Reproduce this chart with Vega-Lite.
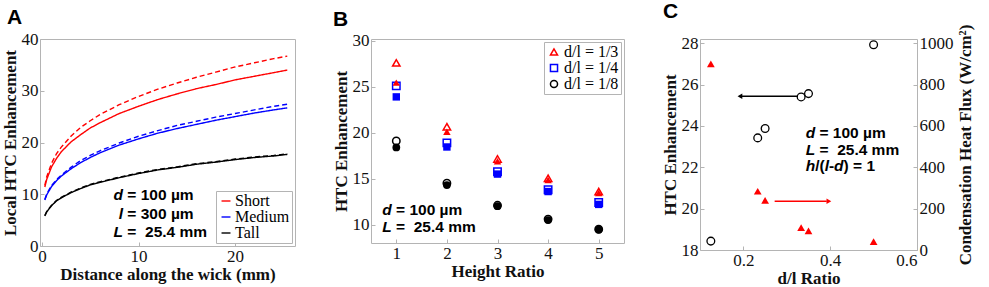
{
 "$schema": "https://vega.github.io/schema/vega-lite/v6.json",
 "padding": {"left": 0, "top": 0, "right": 1, "bottom": 0},
 "spacing": 76,
 "bounds": "flush",
 "resolve": {"scale": {"color": "independent", "shape": "independent", "strokeDash": "independent"}, "legend": {"color": "independent", "shape": "independent"}},
 "datasets": {
  "curves": [
   {"x":0.3,"y":11.4,"h":"Short","m":"solid"},{"x":0.5,"y":12.9,"h":"Short","m":"solid"},{"x":1,"y":15.3,"h":"Short","m":"solid"},{"x":1.5,"y":16.9,"h":"Short","m":"solid"},{"x":2,"y":18.2,"h":"Short","m":"solid"},{"x":3,"y":20.1,"h":"Short","m":"solid"},{"x":4,"y":21.5,"h":"Short","m":"solid"},{"x":5,"y":22.8,"h":"Short","m":"solid"},{"x":6,"y":23.8,"h":"Short","m":"solid"},{"x":8,"y":25.6,"h":"Short","m":"solid"},{"x":10,"y":27.0,"h":"Short","m":"solid"},{"x":12,"y":28.3,"h":"Short","m":"solid"},{"x":14,"y":29.4,"h":"Short","m":"solid"},{"x":16,"y":30.4,"h":"Short","m":"solid"},{"x":18,"y":31.2,"h":"Short","m":"solid"},{"x":20,"y":32.1,"h":"Short","m":"solid"},{"x":22,"y":32.8,"h":"Short","m":"solid"},{"x":24,"y":33.5,"h":"Short","m":"solid"},{"x":25.4,"y":34.0,"h":"Short","m":"solid"},
   {"x":0.3,"y":11.7,"h":"Short","m":"dashed"},{"x":0.5,"y":13.4,"h":"Short","m":"dashed"},{"x":1,"y":16.0,"h":"Short","m":"dashed"},{"x":1.5,"y":17.8,"h":"Short","m":"dashed"},{"x":2,"y":19.1,"h":"Short","m":"dashed"},{"x":3,"y":21.2,"h":"Short","m":"dashed"},{"x":4,"y":22.9,"h":"Short","m":"dashed"},{"x":5,"y":24.2,"h":"Short","m":"dashed"},{"x":6,"y":25.4,"h":"Short","m":"dashed"},{"x":8,"y":27.3,"h":"Short","m":"dashed"},{"x":10,"y":28.9,"h":"Short","m":"dashed"},{"x":12,"y":30.3,"h":"Short","m":"dashed"},{"x":14,"y":31.5,"h":"Short","m":"dashed"},{"x":16,"y":32.6,"h":"Short","m":"dashed"},{"x":18,"y":33.6,"h":"Short","m":"dashed"},{"x":20,"y":34.6,"h":"Short","m":"dashed"},{"x":22,"y":35.4,"h":"Short","m":"dashed"},{"x":24,"y":36.2,"h":"Short","m":"dashed"},{"x":25.4,"y":36.7,"h":"Short","m":"dashed"},
   {"x":0.3,"y":8.9,"h":"Medium","m":"solid"},{"x":0.5,"y":9.9,"h":"Medium","m":"solid"},{"x":1,"y":11.5,"h":"Medium","m":"solid"},{"x":1.5,"y":12.6,"h":"Medium","m":"solid"},{"x":2,"y":13.5,"h":"Medium","m":"solid"},{"x":3,"y":14.9,"h":"Medium","m":"solid"},{"x":4,"y":16.1,"h":"Medium","m":"solid"},{"x":5,"y":17.1,"h":"Medium","m":"solid"},{"x":6,"y":18.0,"h":"Medium","m":"solid"},{"x":8,"y":19.5,"h":"Medium","m":"solid"},{"x":10,"y":20.7,"h":"Medium","m":"solid"},{"x":12,"y":21.8,"h":"Medium","m":"solid"},{"x":14,"y":22.7,"h":"Medium","m":"solid"},{"x":16,"y":23.5,"h":"Medium","m":"solid"},{"x":18,"y":24.3,"h":"Medium","m":"solid"},{"x":20,"y":25.0,"h":"Medium","m":"solid"},{"x":22,"y":25.7,"h":"Medium","m":"solid"},{"x":24,"y":26.3,"h":"Medium","m":"solid"},{"x":25.4,"y":26.7,"h":"Medium","m":"solid"},
   {"x":0.3,"y":9.0,"h":"Medium","m":"dashed"},{"x":0.5,"y":10.1,"h":"Medium","m":"dashed"},{"x":1,"y":11.7,"h":"Medium","m":"dashed"},{"x":1.5,"y":12.8,"h":"Medium","m":"dashed"},{"x":2,"y":13.7,"h":"Medium","m":"dashed"},{"x":3,"y":15.2,"h":"Medium","m":"dashed"},{"x":4,"y":16.5,"h":"Medium","m":"dashed"},{"x":5,"y":17.5,"h":"Medium","m":"dashed"},{"x":6,"y":18.4,"h":"Medium","m":"dashed"},{"x":8,"y":19.9,"h":"Medium","m":"dashed"},{"x":10,"y":21.2,"h":"Medium","m":"dashed"},{"x":12,"y":22.3,"h":"Medium","m":"dashed"},{"x":14,"y":23.3,"h":"Medium","m":"dashed"},{"x":16,"y":24.1,"h":"Medium","m":"dashed"},{"x":18,"y":24.9,"h":"Medium","m":"dashed"},{"x":20,"y":25.6,"h":"Medium","m":"dashed"},{"x":22,"y":26.3,"h":"Medium","m":"dashed"},{"x":24,"y":27.0,"h":"Medium","m":"dashed"},{"x":25.4,"y":27.4,"h":"Medium","m":"dashed"},
   {"x":0.3,"y":5.8,"h":"Tall","m":"solid"},{"x":0.5,"y":6.6,"h":"Tall","m":"solid"},{"x":1,"y":7.8,"h":"Tall","m":"solid"},{"x":1.5,"y":8.7,"h":"Tall","m":"solid"},{"x":2,"y":9.3,"h":"Tall","m":"solid"},{"x":3,"y":10.3,"h":"Tall","m":"solid"},{"x":4,"y":11.1,"h":"Tall","m":"solid"},{"x":5,"y":11.8,"h":"Tall","m":"solid"},{"x":6,"y":12.3,"h":"Tall","m":"solid"},{"x":8,"y":13.2,"h":"Tall","m":"solid"},{"x":10,"y":14.0,"h":"Tall","m":"solid"},{"x":12,"y":14.7,"h":"Tall","m":"solid"},{"x":14,"y":15.2,"h":"Tall","m":"solid"},{"x":16,"y":15.8,"h":"Tall","m":"solid"},{"x":18,"y":16.2,"h":"Tall","m":"solid"},{"x":20,"y":16.7,"h":"Tall","m":"solid"},{"x":22,"y":17.1,"h":"Tall","m":"solid"},{"x":24,"y":17.4,"h":"Tall","m":"solid"},{"x":25.4,"y":17.7,"h":"Tall","m":"solid"},
   {"x":0.3,"y":5.9,"h":"Tall","m":"dashed"},{"x":0.5,"y":6.7,"h":"Tall","m":"dashed"},{"x":1,"y":7.9,"h":"Tall","m":"dashed"},{"x":1.5,"y":8.8,"h":"Tall","m":"dashed"},{"x":2,"y":9.4,"h":"Tall","m":"dashed"},{"x":3,"y":10.4,"h":"Tall","m":"dashed"},{"x":4,"y":11.2,"h":"Tall","m":"dashed"},{"x":5,"y":11.9,"h":"Tall","m":"dashed"},{"x":6,"y":12.4,"h":"Tall","m":"dashed"},{"x":8,"y":13.3,"h":"Tall","m":"dashed"},{"x":10,"y":14.1,"h":"Tall","m":"dashed"},{"x":12,"y":14.8,"h":"Tall","m":"dashed"},{"x":14,"y":15.3,"h":"Tall","m":"dashed"},{"x":16,"y":15.9,"h":"Tall","m":"dashed"},{"x":18,"y":16.3,"h":"Tall","m":"dashed"},{"x":20,"y":16.8,"h":"Tall","m":"dashed"},{"x":22,"y":17.2,"h":"Tall","m":"dashed"},{"x":24,"y":17.5,"h":"Tall","m":"dashed"},{"x":25.4,"y":17.8,"h":"Tall","m":"dashed"}
  ],
  "pts": [
   {"x":1,"y":27.6,"g":"d/l = 1/3","f":"open"},{"x":2,"y":20.65,"g":"d/l = 1/3","f":"open"},{"x":3,"y":17.15,"g":"d/l = 1/3","f":"open"},{"x":4,"y":15.05,"g":"d/l = 1/3","f":"open"},{"x":5,"y":13.6,"g":"d/l = 1/3","f":"open"},
   {"x":1,"y":25.1,"g":"d/l = 1/4","f":"open"},{"x":2,"y":18.9,"g":"d/l = 1/4","f":"open"},{"x":3,"y":15.75,"g":"d/l = 1/4","f":"open"},{"x":4,"y":13.8,"g":"d/l = 1/4","f":"open"},{"x":5,"y":12.4,"g":"d/l = 1/4","f":"open"},
   {"x":1,"y":19.1,"g":"d/l = 1/8","f":"open"},{"x":2,"y":14.5,"g":"d/l = 1/8","f":"open"},{"x":3,"y":12.1,"g":"d/l = 1/8","f":"open"},{"x":4,"y":10.6,"g":"d/l = 1/8","f":"open"},{"x":5,"y":9.5,"g":"d/l = 1/8","f":"open"},
   {"x":1,"y":25.45,"g":"d/l = 1/3","f":"filled"},{"x":2,"y":20.1,"g":"d/l = 1/3","f":"filled"},{"x":3,"y":16.9,"g":"d/l = 1/3","f":"filled"},{"x":4,"y":14.85,"g":"d/l = 1/3","f":"filled"},{"x":5,"y":13.45,"g":"d/l = 1/3","f":"filled"},
   {"x":1,"y":23.9,"g":"d/l = 1/4","f":"filled"},{"x":2,"y":18.45,"g":"d/l = 1/4","f":"filled"},{"x":3,"y":15.5,"g":"d/l = 1/4","f":"filled"},{"x":4,"y":13.6,"g":"d/l = 1/4","f":"filled"},{"x":5,"y":12.2,"g":"d/l = 1/4","f":"filled"},
   {"x":1,"y":18.4,"g":"d/l = 1/8","f":"filled"},{"x":2,"y":14.3,"g":"d/l = 1/8","f":"filled"},{"x":3,"y":12.0,"g":"d/l = 1/8","f":"filled"},{"x":4,"y":10.5,"g":"d/l = 1/8","f":"filled"},{"x":5,"y":9.45,"g":"d/l = 1/8","f":"filled"}
  ],
  "htc": [
   {"x":0.125,"y":18.43},{"x":0.233,"y":23.42},{"x":0.25,"y":23.87},{"x":0.333,"y":25.4},{"x":0.35,"y":25.56},{"x":0.5,"y":27.92}
  ],
  "flux": [
   {"x":0.125,"q":900},{"x":0.233,"q":284},{"x":0.25,"q":240},{"x":0.333,"q":108},{"x":0.35,"q":92},{"x":0.5,"q":40}
  ]
 },
 "hconcat": [
  {
   "width": 255, "height": 207,
   "title": {"text": "A", "dx": 6},
   "layer": [
    {
     "data": {"name": "curves"},
     "mark": {"type": "line", "strokeWidth": 1.4},
     "encoding": {
      "x": {"field": "x", "type": "quantitative", "scale": {"domain": [-0.2, 26.2], "nice": false, "zero": false}, "axis": {"title": "Distance along the wick (mm)", "values": [0, 10, 20]}},
      "y": {"field": "y", "type": "quantitative", "scale": {"domain": [0, 40], "nice": false}, "axis": {"title": "Local HTC Enhancement", "values": [0, 10, 20, 30, 40]}},
      "color": {"field": "h", "type": "nominal", "scale": {"domain": ["Short", "Medium", "Tall"], "range": ["#ff0000", "#0000ff", "#000000"]}, "legend": {"title": null, "orient": "bottom-right", "symbolType": "stroke", "symbolStrokeWidth": 1.4, "symbolSize": 80, "labelOffset": 1, "padding": 2, "offset": 3}},
      "strokeDash": {"field": "m", "type": "nominal", "scale": {"domain": ["solid", "dashed"], "range": [[1, 0], [5, 3]]}, "legend": null}
     }
    },
    {
     "data": {"values": [{"x": 8.4, "y": 9.8, "t": "d"}, {"x": 8.4, "y": 6.25, "t": "l"}, {"x": 8.4, "y": 2.7, "t": "L"}]},
     "mark": {"type": "text", "align": "right", "baseline": "middle", "font": "Liberation Sans", "fontWeight": "bold", "fontStyle": "italic", "fontSize": 15.5, "color": "#000"},
     "encoding": {
      "x": {"field": "x", "type": "quantitative", "scale": {"domain": [-0.2, 26.2], "nice": false, "zero": false}},
      "y": {"field": "y", "type": "quantitative", "scale": {"domain": [0, 40], "nice": false}},
      "text": {"field": "t"}
     }
    },
    {
     "data": {"values": [{"x": 8.4, "y": 9.8, "t": "= 100 \u00b5m"}, {"x": 8.4, "y": 6.25, "t": "= 300 \u00b5m"}, {"x": 8.4, "y": 2.7, "t": "=\u00a0\u00a025.4 mm"}]},
     "mark": {"type": "text", "align": "left", "baseline": "middle", "dx": 4.3, "font": "Liberation Sans", "fontWeight": "bold", "fontSize": 15.5, "color": "#000"},
     "encoding": {
      "x": {"field": "x", "type": "quantitative", "scale": {"domain": [-0.2, 26.2], "nice": false, "zero": false}},
      "y": {"field": "y", "type": "quantitative", "scale": {"domain": [0, 40], "nice": false}},
      "text": {"field": "t"}
     }
    }
   ]
  },
  {
   "width": 253, "height": 204,
   "title": {"text": "B", "dx": 1},
   "layer": [
    {
     "data": {"name": "pts"},
     "transform": [{"filter": "datum.f == 'open'"}],
     "mark": {"type": "point", "filled": false, "strokeWidth": 1.5, "opacity": 1, "size": 55},
     "encoding": {
      "x": {"field": "x", "type": "quantitative", "scale": {"domain": [0.5, 5.5], "nice": false, "zero": false}, "axis": {"title": "Height Ratio", "values": [1, 2, 3, 4, 5]}},
      "y": {"field": "y", "type": "quantitative", "scale": {"domain": [8, 30.2], "nice": false, "zero": false}, "axis": {"title": "HTC Enhancement", "values": [10, 15, 20, 25, 30]}},
      "color": {"field": "g", "type": "nominal", "scale": {"domain": ["d/l = 1/3", "d/l = 1/4", "d/l = 1/8"], "range": ["#ff0000", "#0000ff", "#000000"]}, "legend": {"title": null, "orient": "top-right", "symbolStrokeWidth": 1.5, "symbolSize": 50, "labelOffset": 2, "padding": 2, "offset": 3}},
      "shape": {"field": "g", "type": "nominal", "scale": {"domain": ["d/l = 1/3", "d/l = 1/4", "d/l = 1/8"], "range": ["triangle-up", "square", "circle"]}, "legend": {"title": null, "orient": "top-right", "symbolStrokeWidth": 1.5, "symbolSize": 50, "labelOffset": 2, "padding": 2, "offset": 3}}
     }
    },
    {
     "data": {"name": "pts"},
     "transform": [{"filter": "datum.f == 'filled' && datum.g == 'd/l = 1/3'"}],
     "mark": {"type": "point", "shape": "triangle-up", "filled": true, "color": "#ff0000", "opacity": 1, "size": 55},
     "encoding": {
      "x": {"field": "x", "type": "quantitative", "scale": {"domain": [0.5, 5.5], "nice": false, "zero": false}},
      "y": {"field": "y", "type": "quantitative", "scale": {"domain": [8, 30.2], "nice": false, "zero": false}}
     }
    },
    {
     "data": {"name": "pts"},
     "transform": [{"filter": "datum.f == 'filled' && datum.g == 'd/l = 1/4'"}],
     "mark": {"type": "point", "shape": "square", "filled": true, "color": "#0000ff", "opacity": 1, "size": 55},
     "encoding": {
      "x": {"field": "x", "type": "quantitative", "scale": {"domain": [0.5, 5.5], "nice": false, "zero": false}},
      "y": {"field": "y", "type": "quantitative", "scale": {"domain": [8, 30.2], "nice": false, "zero": false}}
     }
    },
    {
     "data": {"name": "pts"},
     "transform": [{"filter": "datum.f == 'filled' && datum.g == 'd/l = 1/8'"}],
     "mark": {"type": "point", "shape": "circle", "filled": true, "color": "#000000", "opacity": 1, "size": 60},
     "encoding": {
      "x": {"field": "x", "type": "quantitative", "scale": {"domain": [0.5, 5.5], "nice": false, "zero": false}},
      "y": {"field": "y", "type": "quantitative", "scale": {"domain": [8, 30.2], "nice": false, "zero": false}}
     }
    },
    {
     "data": {"values": [{"x": 0.91, "y": 11.64, "t": "d"}, {"x": 0.91, "y": 9.7, "t": "L"}]},
     "mark": {"type": "text", "align": "right", "baseline": "middle", "font": "Liberation Sans", "fontWeight": "bold", "fontStyle": "italic", "fontSize": 15.5, "color": "#000"},
     "encoding": {
      "x": {"field": "x", "type": "quantitative", "scale": {"domain": [0.5, 5.5], "nice": false, "zero": false}},
      "y": {"field": "y", "type": "quantitative", "scale": {"domain": [8, 30.2], "nice": false, "zero": false}},
      "text": {"field": "t"}
     }
    },
    {
     "data": {"values": [{"x": 0.91, "y": 11.64, "t": "= 100 \u00b5m"}, {"x": 0.91, "y": 9.7, "t": "=\u00a0\u00a025.4 mm"}]},
     "mark": {"type": "text", "align": "left", "baseline": "middle", "dx": 4.3, "font": "Liberation Sans", "fontWeight": "bold", "fontSize": 15.5, "color": "#000"},
     "encoding": {
      "x": {"field": "x", "type": "quantitative", "scale": {"domain": [0.5, 5.5], "nice": false, "zero": false}},
      "y": {"field": "y", "type": "quantitative", "scale": {"domain": [8, 30.2], "nice": false, "zero": false}},
      "text": {"field": "t"}
     }
    }
   ]
  },
  {
   "width": 217, "height": 211,
   "title": {"text": "C", "dx": 2},
   "layer": [
    {
     "layer": [
      {
       "data": {"name": "htc"},
       "mark": {"type": "point", "filled": false, "color": "#000", "strokeWidth": 1.3, "size": 60, "opacity": 1},
       "encoding": {
        "x": {"field": "x", "type": "quantitative", "scale": {"domain": [0.1, 0.6], "nice": false, "zero": false}, "axis": {"title": "d/l Ratio", "values": [0.2, 0.4, 0.6], "format": ".1f"}},
        "y": {"field": "y", "type": "quantitative", "scale": {"domain": [18, 28.2], "nice": false, "zero": false}, "axis": {"title": "HTC Enhancement", "values": [18, 20, 22, 24, 26, 28]}}
       }
      },
      {
       "data": {"values": [{"x": 0.196, "x2": 0.325, "y": 25.43}]},
       "mark": {"type": "rule", "color": "#000", "strokeWidth": 1.6},
       "encoding": {
        "x": {"field": "x", "type": "quantitative", "scale": {"domain": [0.1, 0.6], "nice": false, "zero": false}},
        "x2": {"field": "x2"},
        "y": {"field": "y", "type": "quantitative", "scale": {"domain": [18, 28.2], "nice": false, "zero": false}}
       }
      },
      {
       "data": {"values": [{"x": 0.192, "y": 25.43}]},
       "mark": {"type": "point", "shape": "triangle-left", "filled": true, "color": "#000", "size": 30, "opacity": 1},
       "encoding": {
        "x": {"field": "x", "type": "quantitative", "scale": {"domain": [0.1, 0.6], "nice": false, "zero": false}},
        "y": {"field": "y", "type": "quantitative", "scale": {"domain": [18, 28.2], "nice": false, "zero": false}}
       }
      },
      {
       "data": {"values": [{"x": 0.3654, "y": 23.66, "t": "d"}, {"x": 0.3654, "y": 22.85, "t": "L"}, {"x": 0.3654, "y": 22.05, "t": "h"}]},
       "mark": {"type": "text", "align": "right", "baseline": "middle", "font": "Liberation Sans", "fontWeight": "bold", "fontStyle": "italic", "fontSize": 15.5, "color": "#000"},
       "encoding": {
        "x": {"field": "x", "type": "quantitative", "scale": {"domain": [0.1, 0.6], "nice": false, "zero": false}},
        "y": {"field": "y", "type": "quantitative", "scale": {"domain": [18, 28.2], "nice": false, "zero": false}},
        "text": {"field": "t"}
       }
      },
      {
       "data": {"values": [{"x": 0.3654, "y": 23.66, "t": "= 100 \u00b5m"}, {"x": 0.3654, "y": 22.85, "t": "=\u00a0\u00a025.4 mm"}]},
       "mark": {"type": "text", "align": "left", "baseline": "middle", "dx": 4.3, "font": "Liberation Sans", "fontWeight": "bold", "fontSize": 15.5, "color": "#000"},
       "encoding": {
        "x": {"field": "x", "type": "quantitative", "scale": {"domain": [0.1, 0.6], "nice": false, "zero": false}},
        "y": {"field": "y", "type": "quantitative", "scale": {"domain": [18, 28.2], "nice": false, "zero": false}},
        "text": {"field": "t"}
       }
      },
      {
       "data": {"values": [{"x": 0.3654, "y": 22.05, "t": "/("}]},
       "mark": {"type": "text", "align": "left", "baseline": "middle", "font": "Liberation Sans", "fontWeight": "bold", "fontSize": 15.5, "color": "#000"},
       "encoding": {
        "x": {"field": "x", "type": "quantitative", "scale": {"domain": [0.1, 0.6], "nice": false, "zero": false}},
        "y": {"field": "y", "type": "quantitative", "scale": {"domain": [18, 28.2], "nice": false, "zero": false}},
        "text": {"field": "t"}
       }
      },
      {
       "data": {"values": [{"x": 0.3654, "y": 22.05, "t": "l"}]},
       "mark": {"type": "text", "align": "left", "baseline": "middle", "dx": 9.47, "font": "Liberation Sans", "fontWeight": "bold", "fontStyle": "italic", "fontSize": 15.5, "color": "#000"},
       "encoding": {
        "x": {"field": "x", "type": "quantitative", "scale": {"domain": [0.1, 0.6], "nice": false, "zero": false}},
        "y": {"field": "y", "type": "quantitative", "scale": {"domain": [18, 28.2], "nice": false, "zero": false}},
        "text": {"field": "t"}
       }
      },
      {
       "data": {"values": [{"x": 0.3654, "y": 22.05, "t": "-"}]},
       "mark": {"type": "text", "align": "left", "baseline": "middle", "dx": 13.78, "font": "Liberation Sans", "fontWeight": "bold", "fontSize": 15.5, "color": "#000"},
       "encoding": {
        "x": {"field": "x", "type": "quantitative", "scale": {"domain": [0.1, 0.6], "nice": false, "zero": false}},
        "y": {"field": "y", "type": "quantitative", "scale": {"domain": [18, 28.2], "nice": false, "zero": false}},
        "text": {"field": "t"}
       }
      },
      {
       "data": {"values": [{"x": 0.3654, "y": 22.05, "t": "d"}]},
       "mark": {"type": "text", "align": "left", "baseline": "middle", "dx": 18.94, "font": "Liberation Sans", "fontWeight": "bold", "fontStyle": "italic", "fontSize": 15.5, "color": "#000"},
       "encoding": {
        "x": {"field": "x", "type": "quantitative", "scale": {"domain": [0.1, 0.6], "nice": false, "zero": false}},
        "y": {"field": "y", "type": "quantitative", "scale": {"domain": [18, 28.2], "nice": false, "zero": false}},
        "text": {"field": "t"}
       }
      },
      {
       "data": {"values": [{"x": 0.3654, "y": 22.05, "t": ")\u00a0= 1"}]},
       "mark": {"type": "text", "align": "left", "baseline": "middle", "dx": 28.41, "font": "Liberation Sans", "fontWeight": "bold", "fontSize": 15.5, "color": "#000"},
       "encoding": {
        "x": {"field": "x", "type": "quantitative", "scale": {"domain": [0.1, 0.6], "nice": false, "zero": false}},
        "y": {"field": "y", "type": "quantitative", "scale": {"domain": [18, 28.2], "nice": false, "zero": false}},
        "text": {"field": "t"}
       }
      }
     ]
    },
    {
     "layer": [
      {
       "data": {"name": "flux"},
       "mark": {"type": "point", "shape": "triangle-up", "filled": true, "color": "#ff0000", "size": 60, "opacity": 1},
       "encoding": {
        "x": {"field": "x", "type": "quantitative", "scale": {"domain": [0.1, 0.6], "nice": false, "zero": false}},
        "y": {"field": "q", "type": "quantitative", "scale": {"domain": [0, 1020], "nice": false, "zero": false}, "axis": {"orient": "right", "title": "Condensation Heat Flux (W/cm\u00b2)", "values": [0, 200, 400, 600, 800, 1000], "format": "d", "titleAngle": 270, "titleBaseline": "top", "titlePadding": 4}}
       }
      },
      {
       "data": {"values": [{"x": 0.272, "x2": 0.392, "q": 236}]},
       "mark": {"type": "rule", "color": "#ff0000", "strokeWidth": 1.6},
       "encoding": {
        "x": {"field": "x", "type": "quantitative", "scale": {"domain": [0.1, 0.6], "nice": false, "zero": false}},
        "x2": {"field": "x2"},
        "y": {"field": "q", "type": "quantitative", "scale": {"domain": [0, 1020], "nice": false, "zero": false}}
       }
      },
      {
       "data": {"values": [{"x": 0.397, "q": 236}]},
       "mark": {"type": "point", "shape": "triangle-right", "filled": true, "color": "#ff0000", "size": 30, "opacity": 1},
       "encoding": {
        "x": {"field": "x", "type": "quantitative", "scale": {"domain": [0.1, 0.6], "nice": false, "zero": false}},
        "y": {"field": "q", "type": "quantitative", "scale": {"domain": [0, 1020], "nice": false, "zero": false}}
       }
      }
     ]
    }
   ],
   "resolve": {"scale": {"y": "independent"}}
  }
 ],
 "config": {
  "view": {"stroke": "#b4b4b4", "strokeWidth": 1},
  "axis": {"labelFont": "Liberation Serif", "labelFontSize": 17, "labelColor": "#111", "titleFont": "Liberation Serif", "titleFontSize": 17, "titleFontWeight": "bold", "titleColor": "#111", "domain": false, "grid": false, "ticks": true, "tickColor": "#b4b4b4", "tickSize": -4, "labelPadding": 6, "titlePadding": 2},
  "legend": {"labelFont": "Liberation Serif", "labelFontSize": 16, "labelColor": "#000", "strokeColor": "#b4b4b4", "fillColor": "#ffffff", "padding": 3, "rowPadding": 0, "offset": 3, "labelOffset": 3},
  "title": {"font": "Liberation Sans", "fontSize": 21, "fontWeight": "bold", "anchor": "start", "frame": "bounds", "offset": 2, "color": "#000"}
 }
}
